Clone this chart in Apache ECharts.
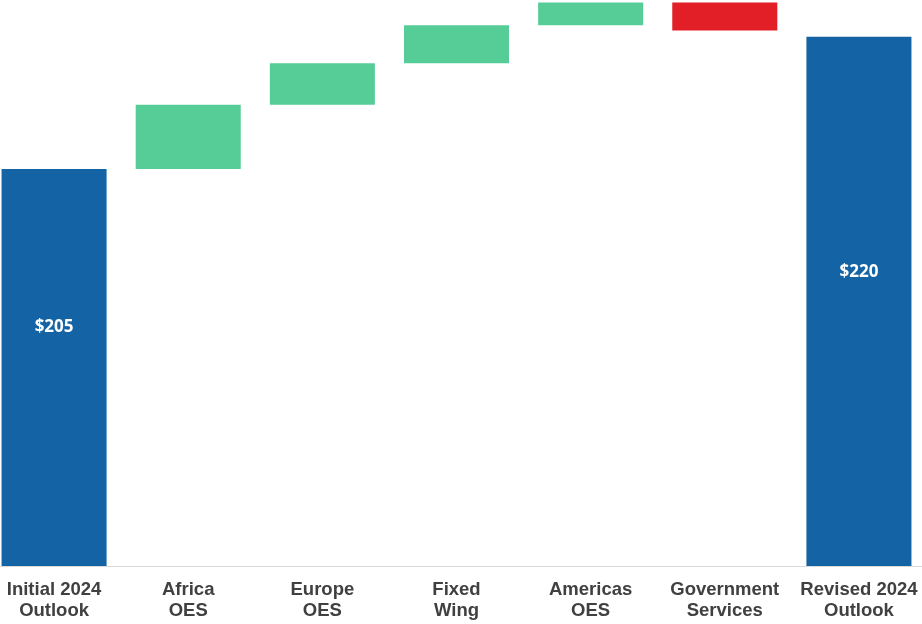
<!DOCTYPE html>
<html><head><meta charset="utf-8">
<script src="https://cdn.jsdelivr.net/npm/echarts@6/dist/echarts.min.js"></script>
<style>html,body{margin:0;padding:0;background:#fff;overflow:hidden}#c{position:absolute;left:-12.6px;top:0;width:939.3px;height:624px}</style>
</head><body><div id="c"></div>
<script>
const categories = ['Initial 2024\nOutlook','Africa\nOES','Europe\nOES','Fixed\nWing','Americas\nOES','Government\nServices','Revised 2024\nOutlook'];
const startTotal = 205;
const deltas = [7.3, 4.7, 4.3, 2.6, -3.2];
const endTotal = 220;
const totalLabels = ['$205', '$220'];

const base = [], up = [], down = [], totals = [];
let cum = startTotal;
totals.push({value: startTotal, label: {formatter: totalLabels[0], position: ['50%','39.8%']}});
base.push('-'); up.push('-'); down.push('-');
deltas.forEach(d => {
  if (d >= 0) { base.push(cum); up.push(d); down.push('-'); }
  else { base.push(cum + d); up.push('-'); down.push(-d); }
  totals.push('-');
  cum += d;
});
base.push('-'); up.push('-'); down.push('-');
totals.push({value: endTotal, label: {formatter: totalLabels[1], position: ['50%','44.5%']}});

const chart = echarts.init(document.getElementById('c'));
chart.setOption({
  animation: false,
  grid: {left: 0, right: 0, top: 1.5, bottom: 58},
  xAxis: {
    type: 'category', data: categories,
    axisLine: {show: true, lineStyle: {color: '#D9D9D9', width: 1}},
    axisTick: {show: false},
    axisLabel: {interval: 0, color: '#404040', fontFamily: 'Liberation Sans', fontWeight: 'bold', fontSize: 18.5, lineHeight: 21, margin: 13.5}
  },
  yAxis: {type: 'value', min: 160, max: 224, show: false, splitLine: {show: false}},
  series: [
    {type: 'bar', stack: 'w', data: base, barWidth: '78.3%', itemStyle: {color: 'transparent'}, silent: true},
    {type: 'bar', stack: 'w', data: up, itemStyle: {color: '#56CD97'}},
    {type: 'bar', stack: 'w', data: down, itemStyle: {color: '#E21F27'}},
    {type: 'bar', stack: 'w', data: totals, itemStyle: {color: '#1464A5'},
     label: {show: true, color: '#fff', fontFamily: 'Open Sans', fontWeight: 'bold', fontSize: 17, align: 'center', verticalAlign: 'middle'}}
  ]
});
</script></body></html>
